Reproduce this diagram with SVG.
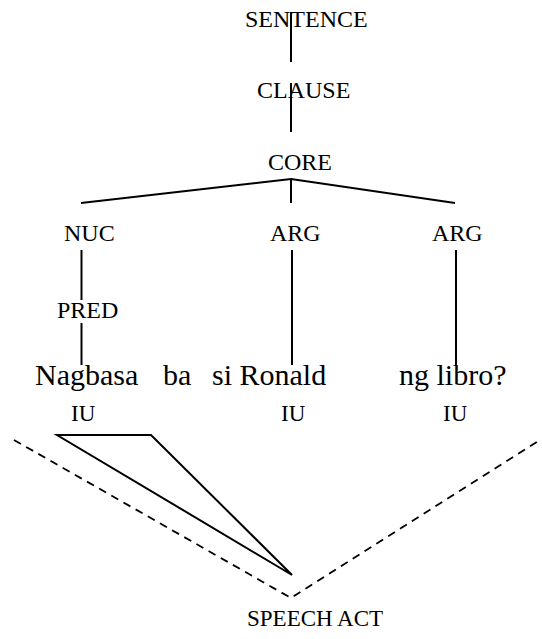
<svg xmlns="http://www.w3.org/2000/svg" width="542" height="639" viewBox="0 0 542 639">
  <style>
    .lbl { font-family: "Liberation Serif", "Times New Roman", serif; font-size: 24px; fill: #000; }
    .word { font-family: "Liberation Serif", "Times New Roman", serif; font-size: 30px; fill: #000; }
    .iu { font-family: "Liberation Serif", "Times New Roman", serif; font-size: 23px; fill: #000; }
    .sa { font-family: "Liberation Serif", "Times New Roman", serif; font-size: 23px; fill: #000; }
    .edge { stroke: #000; stroke-width: 2; fill: none; stroke-linecap: butt; }
    .dash { stroke: #000; stroke-width: 1.8; fill: none; stroke-dasharray: 8 6; }
  </style>
  <rect width="542" height="639" fill="#fff"/>

  <!-- tree branches, projection triangle and speech-act lines -->
  <g id="connectors">
    <line class="edge" x1="291" y1="12" x2="291" y2="62"/>
    <line class="edge" x1="291" y1="83" x2="291" y2="132"/>
    <polyline class="edge" points="81,203 291,179 455,203"/>
    <line class="edge" x1="291" y1="179" x2="291" y2="203"/>
    <line class="edge" x1="81.5" y1="250" x2="81.5" y2="300"/>
    <line class="edge" x1="81.5" y1="323" x2="81.5" y2="365"/>
    <line class="edge" x1="292" y1="250" x2="292" y2="365"/>
    <line class="edge" x1="456" y1="250" x2="456" y2="366"/>
    <polygon class="edge" points="57,435 151,435 292,575" stroke-linejoin="miter"/>
    <polyline class="dash" points="14,440 291,598 540,440"/>
  </g>

  <g id="sentence"><text class="lbl" x="245" y="27">SENTENCE</text></g>
  <g id="clause"><text class="lbl" x="257" y="98">CLAUSE</text></g>
  <g id="core"><text class="lbl" x="268" y="170">CORE</text></g>
  <g id="nuc"><text class="lbl" x="64" y="241">NUC</text></g>
  <g id="arg1"><text class="lbl" x="270" y="241">ARG</text></g>
  <g id="arg2"><text class="lbl" x="432" y="241">ARG</text></g>
  <g id="pred"><text class="lbl" x="57" y="318">PRED</text></g>

  <g id="words">
    <text class="word" x="35" y="385">Nagbasa</text>
    <text class="word" x="163" y="385">ba</text>
    <text class="word" x="212" y="385">si Ronald</text>
    <text class="word" x="399" y="385">ng libro?</text>
  </g>

  <g id="iu1"><text class="iu" x="71" y="421">IU</text></g>
  <g id="iu2"><text class="iu" x="281" y="421">IU</text></g>
  <g id="iu3"><text class="iu" x="443" y="421">IU</text></g>

  <g id="speech-act"><text class="sa" x="247" y="626">SPEECH ACT</text></g>
</svg>
